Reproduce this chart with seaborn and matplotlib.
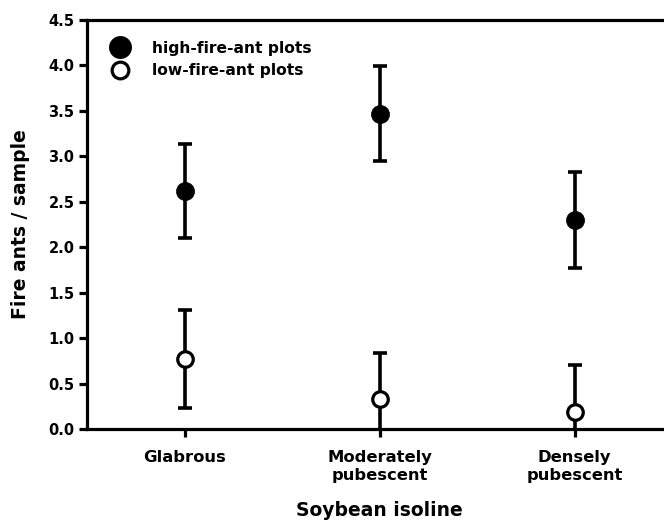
import matplotlib
matplotlib.use("Agg")
import matplotlib.pyplot as plt
import seaborn as sns
import pandas as pd
import numpy as np
from matplotlib.lines import Line2D

categories = ["Glabrous", "Moderately\npubescent", "Densely\npubescent"]
high_mean = [2.62, 3.47, 2.30]
high_err = [0.52, 0.52, 0.53]
low_mean = [0.77, 0.33, 0.19]
low_err = [0.54, 0.51, 0.51]
yticks = [0.0, 0.5, 1.0, 1.5, 2.0, 2.5, 3.0, 3.5, 4.0, 4.5]

sns.set_style("white")
plt.rcParams['font.family'] = ['DejaVu Sans']
plt.rcParams.update({"text.color": "black", "axes.labelcolor": "black",
                     "xtick.color": "black", "ytick.color": "black"})

fig = plt.figure(figsize=(6.64, 5.21), dpi=100)
W, H = 664, 521
left, right, top, bottom = 87, 672, 20, 429
ax = fig.add_axes([left / W, 1 - bottom / H, (right - left) / W, (bottom - top) / H])

xs = np.arange(len(categories))
df = pd.DataFrame({
    "x": np.concatenate([xs, xs]),
    "y": high_mean + low_mean,
    "group": ["high-fire-ant plots"] * 3 + ["low-fire-ant plots"] * 3,
})

ax.errorbar(xs, high_mean, yerr=high_err, fmt="none", ecolor="black",
            elinewidth=2.6, capsize=5, capthick=2.6, zorder=2, clip_on=True)
ax.errorbar(xs, low_mean, yerr=low_err, fmt="none", ecolor="black",
            elinewidth=2.6, capsize=5, capthick=2.6, zorder=2, clip_on=True)

sns.scatterplot(data=df[df.group == "high-fire-ant plots"], x="x", y="y", ax=ax,
                color="black", edgecolor="black", s=170, linewidth=0.5, zorder=3, legend=False)
sns.scatterplot(data=df[df.group == "low-fire-ant plots"], x="x", y="y", ax=ax,
                color="white", edgecolor="black", s=125, linewidth=2.3, zorder=3, legend=False)

ax.set_xlim(-0.5, 2.5)
ax.set_ylim(0, 4.5)
ax.set_yticks(yticks)
ax.set_yticklabels([f"{v:.1f}" for v in yticks], fontsize=10.5, fontweight="bold")
ax.set_xticks(xs)
ax.set_xticklabels(categories, fontsize=11.8, fontweight="bold", linespacing=1.3)

for s in ["left", "bottom", "top"]:
    ax.spines[s].set_linewidth(2.3)
    ax.spines[s].set_color("black")
ax.spines["right"].set_visible(False)
ax.tick_params(axis="both", direction="out", length=6, width=2.3, color="black",
               left=True, bottom=True, pad=3)
ax.tick_params(axis="x", pad=9)

ax.set_xlabel("Soybean isoline", fontsize=13.5, fontweight="bold", labelpad=13)
ax.set_ylabel("Fire ants / sample", fontsize=13.5, fontweight="bold", labelpad=13)

handles = [
    Line2D([], [], marker="o", linestyle="none", markerfacecolor="black",
           markeredgecolor="black", markersize=15.5),
    Line2D([], [], marker="o", linestyle="none", markerfacecolor="white",
           markeredgecolor="black", markeredgewidth=2.3, markersize=12),
]
leg = ax.legend(handles, ["high-fire-ant plots", "low-fire-ant plots"],
                loc="upper left", bbox_to_anchor=(0.02, 0.965), frameon=False,
                prop={"weight": "bold", "size": 11.2}, handletextpad=1.0,
                labelspacing=0.5, borderaxespad=0)

fig.savefig("out.png", dpi=100)
